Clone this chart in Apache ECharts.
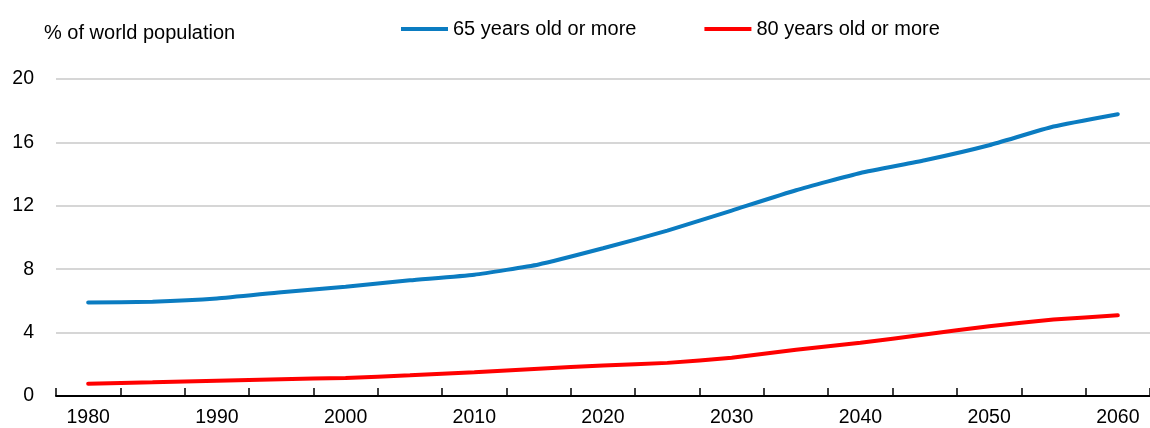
<!DOCTYPE html>
<html>
<head>
<meta charset="utf-8">
<script src="https://cdn.jsdelivr.net/npm/echarts@6/dist/echarts.min.js"></script>
<style>
html,body{margin:0;padding:0;background:#fff;}
#chart{width:1150px;height:428px;}
</style>
</head>
<body>
<div id="chart"></div>
<script>
const years = ['1980','1985','1990','1995','2000','2005','2010','2015','2020','2025','2030','2035','2040','2045','2050','2055','2060'];
const age65 = [5.9, 5.95, 6.15, 6.55, 6.9, 7.3, 7.65, 8.3, 9.32, 10.43, 11.7, 12.98, 14.07, 14.87, 15.82, 17.0, 17.78];
const age80 = [0.77, 0.86, 0.96, 1.06, 1.14, 1.31, 1.5, 1.72, 1.93, 2.09, 2.42, 2.92, 3.36, 3.88, 4.4, 4.82, 5.09];
const yTicks = {min: 0, max: 20, interval: 4};
const FONT = '"Liberation Sans", Arial, sans-serif';

const chart = echarts.init(document.getElementById('chart'));
chart.setOption({
  animation: false,
  backgroundColor: '#fff',
  title: {
    text: '% of world population',
    left: 39, top: 18,
    textStyle: {fontFamily: FONT, fontSize: 20, fontWeight: 'normal', color: '#000'}
  },
  legend: {
    top: 14, left: 396,
    icon: 'rect', itemWidth: 47, itemHeight: 4, itemGap: 68,
    textStyle: {fontFamily: FONT, fontSize: 20, color: '#000', padding: [0,0,0,0]},
    data: ['65 years old or more', '80 years old or more']
  },
  grid: {left: 56, right: -8, top: 79, bottom: 31},
  xAxis: {
    type: 'category',
    data: years,
    boundaryGap: true,
    axisLine: {show: true, lineStyle: {color: '#000', width: 2}},
    axisTick: {show: true, inside: true, length: 8, interval: 0, lineStyle: {color: '#000', width: 1.5}},
    axisLabel: {interval: 1, margin: 12, fontFamily: FONT, fontSize: 19.5, color: '#000'},
    splitLine: {show: false}
  },
  yAxis: {
    type: 'value',
    min: yTicks.min, max: yTicks.max, interval: yTicks.interval,
    axisLine: {show: false},
    axisTick: {show: false},
    axisLabel: {margin: 22, fontFamily: FONT, fontSize: 19.5, color: '#000'},
    splitLine: {lineStyle: {color: '#c8c8c8', width: 1.5}}
  },
  series: [
    {name: '65 years old or more', type: 'line', data: age65, smooth: 0.15, symbol: 'none',
     lineStyle: {color: '#0b7cc1', width: 4, cap: 'round'}, itemStyle: {color: '#0b7cc1'}},
    {name: '80 years old or more', type: 'line', data: age80, smooth: 0.15, symbol: 'none',
     lineStyle: {color: '#ff0000', width: 4, cap: 'round'}, itemStyle: {color: '#ff0000'}}
  ]
});
</script>
</body>
</html>
